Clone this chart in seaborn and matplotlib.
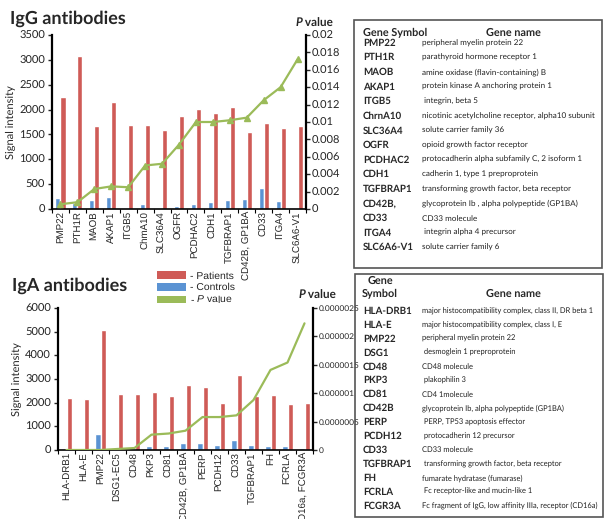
import numpy as np
import pandas as pd
import matplotlib
matplotlib.use("Agg")
import matplotlib.pyplot as plt
import seaborn as sns
from matplotlib.patches import Patch, Rectangle

# ---- IgG data ----
igg_genes = ['PMP22', 'PTH1R', 'MAOB', 'AKAP1', 'ITGB5', 'ChmA10', 'SLC36A4', 'OGFR',
             'PCDHAC2', 'CDH1', 'TGFBRAP1', 'CD42B, GP1BA', 'CD33', 'ITGA4', 'SLC6A6-V1']
igg_patients = [2260, 3080, 1660, 2150, 1685, 1695, 1580, 1880, 2020, 1925, 2050, 1555, 1735, 1625, 1665]
igg_controls = [220, 120, 180, 250, 25, 110, 5, 55, 95, 140, 180, 200, 415, 160, 0]
igg_pvalue = [0.00055, 0.00078, 0.0023, 0.0026, 0.0025, 0.0050, 0.0052, 0.0074,
              0.0100, 0.0100, 0.0102, 0.0105, 0.0125, 0.0140, 0.0172]

# ---- IgA data ----
iga_genes = ['HLA-DRB1', 'HLA-E', 'PMP22', 'DSG1-EC5', 'CD48', 'PKP3', 'CD81', 'CD42B, GP1BA',
             'PERP', 'PCDH12', 'CD33', 'TGFBRAP1', 'FH', 'FCRLA', 'CD16a, FCGR3A']
iga_patients = [2210, 2140, 5060, 2370, 2360, 2470, 2290, 2740, 2670, 1975, 3150, 2290, 2330, 1935, 1990]
iga_controls = [60, 30, 670, 60, 130, 180, 160, 290, 290, 210, 420, 220, 160, 150, 90]
iga_pvalue = [0.0, 0.0, 0.0, 0.018e-6, 0.035e-6, 0.27e-6, 0.29e-6, 0.34e-6,
              0.58e-6, 0.58e-6, 0.61e-6, 0.88e-6, 1.41e-6, 1.54e-6, 2.23e-6]

# ---- gene tables ----
igg_symbols = ['PMP22', 'PTH1R', 'MAOB', 'AKAP1', 'ITGB5', 'ChrnA10', 'SLC36A4', 'OGFR',
               'PCDHAC2', 'CDH1', 'TGFBRAP1', 'CD42B,', 'CD33', 'ITGA4', 'SLC6A6-V1']
igg_names = ['peripheral myelin protein 22', 'parathyroid hormone receptor 1',
             'amine oxidase (flavin-containing) B', 'protein kinase A anchoring protein 1',
             ' integrin, beta 5', 'nicotinic acetylcholine receptor, alpha10 subunit',
             'solute carrier family 36', 'opioid growth factor receptor',
             'protocadherin alpha subfamily C, 2 isoform 1', 'cadherin 1, type 1 preproprotein',
             'transforming growth factor, beta receptor',
             'glycoprotein Ib , alpha polypeptide (GP1BA)', 'CD33 molecule',
             ' integrin alpha 4 precursor', 'solute carrier family 6']
iga_symbols = ['HLA-DRB1', 'HLA-E', 'PMP22', 'DSG1', 'CD48', 'PKP3', 'CD81', 'CD42B',
               'PERP', 'PCDH12', 'CD33', 'TGFBRAP1', 'FH', 'FCRLA', 'FCGR3A']
iga_names = ['major histocompatibility complex, class II, DR beta 1',
             'major histocompatibility complex, class I, E', 'peripheral myelin protein 22',
             ' desmoglein 1 preproprotein', 'CD48 molecule', ' plakophilin 3', 'CD4 1molecule',
             'glycoprotein Ib, alpha polypeptide (GP1BA)', ' PERP, TP53 apoptosis effector',
             ' protocadherin 12 precursor', 'CD33 molecule',
             ' transforming growth factor, beta receptor', 'fumarate hydratase (fumarase)',
             ' Fc receptor-like and mucin-like 1',
             'Fc fragment of IgG, low affinity IIIa, receptor (CD16a)']

RED = '#CF5B57'
BLUE = '#5B93D3'
GREEN = '#9BBB59'

sns.set_style("white")
plt.rcParams['font.family'] = ['Lato', 'DejaVu Sans']
plt.rcParams['text.hinting'] = 'no_hinting'
plt.rcParams['mathtext.fontset'] = 'custom'
plt.rcParams['mathtext.it'] = 'Liberation Sans:italic'
plt.rcParams['mathtext.rm'] = 'Liberation Sans'

W, H = 607, 519
fig = plt.figure(figsize=(W / 100, H / 100), dpi=100)
renderer = fig.canvas.get_renderer()


def fit_size(text, target_px, **kw):
    # font size that makes `text` about target_px wide
    t = fig.text(0, 0, text, fontsize=10, **kw)
    w = t.get_window_extent(renderer).width
    t.remove()
    return 10 * target_px / w


def fmt_p(v):
    s = f"{v:.10f}".rstrip('0').rstrip('.')
    return s


XT_FONT = 'Liberation Sans'
XT_SIZE = 7


def draw_chart(rect, genes, patients, controls, pvals, ymax, ystep, pmax, pstep,
               markers, pfont, title, title_xy, pv_xy):
    ax = fig.add_axes([rect[0] / W, 1 - rect[3] / H, (rect[2] - rect[0]) / W, (rect[3] - rect[1]) / H])
    df = pd.DataFrame({
        'gene': genes * 2,
        'signal': list(controls) + list(patients),
        'group': ['Controls'] * len(genes) + ['Patients'] * len(genes),
    })
    sns.barplot(data=df, x='gene', y='signal', hue='group', order=genes,
                hue_order=['Controls', 'Patients'], palette=[BLUE, RED],
                width=0.6, saturation=1, legend=False, ax=ax)
    ax.set_xlim(-0.5, len(genes) - 0.5)
    ax.set_ylim(0, ymax)
    ax.set_yticks(np.arange(0, ymax + 1, ystep))
    ax.set_xlabel('')
    ax.set_ylabel('Signal intensity', fontsize=8, labelpad=2)
    ax.tick_params(axis='x', length=0, labelsize=XT_SIZE, labelrotation=90, pad=1.5)
    for lbl in ax.get_xticklabels():
        lbl.set_fontfamily(XT_FONT)
    ax.set_xticks(np.arange(len(genes) + 1) - 0.5, minor=True)
    ax.tick_params(axis='x', which='minor', length=3, width=0.8, color='black', direction='out', bottom=True)
    ax.tick_params(axis='y', length=3, width=1, labelsize=8, pad=2, direction='out', left=True)
    for s in ['top', 'right']:
        ax.spines[s].set_visible(False)
    ax.spines['left'].set_linewidth(1.6)
    ax.spines['bottom'].set_linewidth(1.2)
    for s in ['left', 'bottom']:
        ax.spines[s].set_color('black')

    axr = ax.twinx()
    x = np.arange(len(genes))
    if markers:
        axr.plot(x, pvals, color=GREEN, lw=1.6, marker='^', markersize=4.5)
    else:
        axr.plot(x, pvals, color=GREEN, lw=1.6)
    ticks = np.linspace(0, pmax, int(round(pmax / pstep)) + 1)
    axr.set_ylim(0, pmax)
    axr.set_yticks(ticks)
    axr.set_yticklabels([fmt_p(t) for t in ticks])
    axr.tick_params(axis='y', length=3, width=1, labelsize=pfont, pad=1, direction='out', right=True)
    for s in ['top', 'left', 'bottom']:
        axr.spines[s].set_visible(False)
    axr.spines['right'].set_linewidth(1.6)
    axr.spines['right'].set_color('black')
    axr.grid(False)
    ax.grid(False)

    fig.text(title_xy[0] / W, 1 - title_xy[1] / H, title, fontsize=13, fontweight='bold',
             va='center', ha='left')
    fig.text(pv_xy[0] / W, 1 - pv_xy[1] / H, 'P', fontsize=8.5, fontweight='bold',
             style='italic', va='center', ha='right')
    fig.text(pv_xy[0] / W, 1 - pv_xy[1] / H, ' value', fontsize=8.5, fontweight='bold',
             va='center', ha='left')
    return ax


draw_chart((52, 35, 306, 209), igg_genes, igg_patients, igg_controls, igg_pvalue,
           3500, 500, 0.02, 0.002, True, 8, 'IgG antibodies', (10, 19), (302, 23))
draw_chart((58, 308, 313, 450), iga_genes, iga_patients, iga_controls, iga_pvalue,
           6000, 1000, 0.0000025, 0.0000005, False, 6, 'IgA antibodies', (12, 286), (305, 295))

handles = [Patch(facecolor=RED, edgecolor='none'), Patch(facecolor=BLUE, edgecolor='none'),
           Patch(facecolor=GREEN, edgecolor='none')]
fig.legend(handles, ['- Patients', '- Controls', '- $P$ value'], loc='upper left',
           bbox_to_anchor=(148 / W, 1 - 262 / H), frameon=False,
           handlelength=2.7, handleheight=0.8, labelspacing=0.15, handletextpad=0.4,
           prop={'family': 'Liberation Sans', 'size': 7.5})


def draw_table(box, header_two_lines, symbols, names, y_first, y_step, longest, longest_px):
    x0, y0, x1, y1 = box
    name_size = fit_size(longest, longest_px)
    fig.patches.append(Rectangle((x0 / W, 1 - y1 / H), (x1 - x0) / W, (y1 - y0) / H,
                                 transform=fig.transFigure, fill=False,
                                 edgecolor='#555555', lw=1.2))
    if header_two_lines:
        fig.text(380 / W, 1 - 281 / H, 'Gene', fontsize=7.8, fontweight='bold', ha='center', va='center')
        fig.text(380 / W, 1 - 294 / H, 'Symbol', fontsize=7.8, fontweight='bold', ha='center', va='center')
        fig.text(513 / W, 1 - 294 / H, 'Gene name', fontsize=7.8, fontweight='bold', ha='center', va='center')
    else:
        fig.text(363 / W, 1 - 33 / H, 'Gene Symbol', fontsize=7.8, fontweight='bold', ha='left', va='center')
        fig.text(513 / W, 1 - 33 / H, 'Gene name', fontsize=7.8, fontweight='bold', ha='center', va='center')
    for i, (s, n) in enumerate(zip(symbols, names)):
        y = 1 - (y_first + i * y_step) / H
        fig.text(363 / W, y, s, fontsize=7, fontweight='bold', ha='left', va='center')
        fig.text(422 / W, y, n, fontsize=name_size, ha='left', va='center', color='#222222')


draw_table((354, 20, 602, 268), False, igg_symbols, igg_names, 43, 14.6,
           'nicotinic acetylcholine receptor, alpha10 subunit', 172)
draw_table((355, 274, 603, 517), True, iga_symbols, iga_names, 311, 13.9,
           'Fc fragment of IgG, low affinity IIIa, receptor (CD16a)', 176)

fig.savefig('out.png', dpi=100)
